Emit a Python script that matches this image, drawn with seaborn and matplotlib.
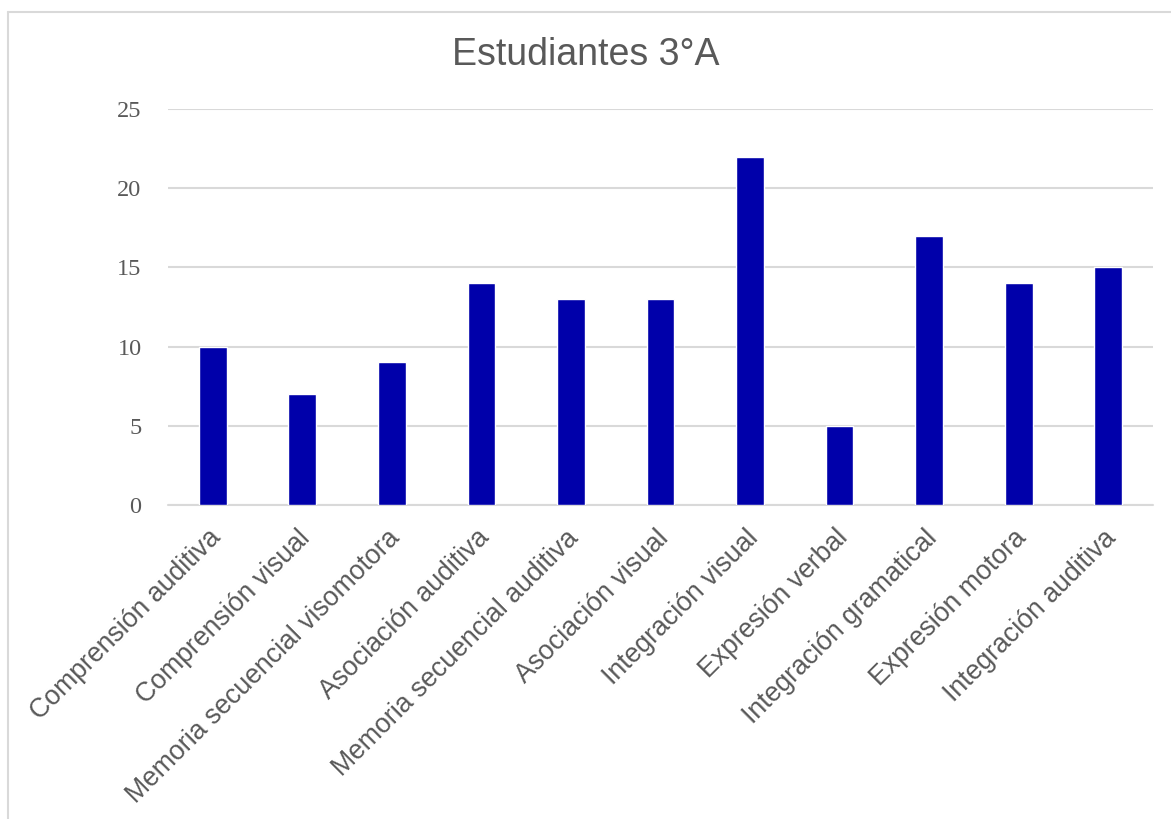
import matplotlib
matplotlib.use('Agg')
import matplotlib.pyplot as plt
import matplotlib.transforms as mtransforms
from matplotlib.lines import Line2D
import pandas as pd
import seaborn as sns

areas = ['Comprensión auditiva', 'Comprensión visual', 'Memoria secuencial visomotora',
         'Asociación auditiva', 'Memoria secuencial auditiva', 'Asociación visual',
         'Integración visual', 'Expresión verbal', 'Integración gramatical',
         'Expresión motora', 'Integración auditiva']
alumnos = [10, 7, 9, 14, 13, 13, 22, 5, 17, 14, 15]
yticks = [0, 5, 10, 15, 20, 25]

df = pd.DataFrame({'Area': areas, 'Alumnos': alumnos})

sns.set_style('white')
plt.rcParams['font.family'] = ['Liberation Sans', 'DejaVu Sans']

fig = plt.figure(figsize=(11.71, 8.19), dpi=100)
ax = fig.add_axes([168/1171, 1-505/819, (1153-168)/1171, (505-109)/819])

sns.barplot(data=df, x='Area', y='Alumnos', color='#0000AA', width=0.31,
            saturation=1, ax=ax, zorder=3)

ax.set_ylim(0, 25)
ax.set_xlim(-0.5, len(areas)-0.5)
ax.set_yticks(yticks)
ax.yaxis.grid(True, color='#d9d9d9', linewidth=1.5, zorder=0)
ax.set_axisbelow(True)
for s in ax.spines.values():
    s.set_visible(False)
ax.axhline(0, color='#d9d9d9', linewidth=1.5, zorder=1, clip_on=False)
ax.set_xlabel('')
ax.set_ylabel('')
ax.tick_params(axis='both', length=0)
ax.tick_params(axis='y', pad=19)
for lab in ax.get_yticklabels():
    lab.set_family('Liberation Serif')
    lab.set_fontsize(17.5)
    lab.set_color('#595959')

ax.set_xticks(range(len(areas)))
ax.set_xticklabels(areas, rotation=45, ha='right', va='center',
                   rotation_mode='anchor', fontsize=19.2, color='#595959')
ax.tick_params(axis='x', pad=0)
offset = mtransforms.ScaledTranslation(0.04, -0.29, fig.dpi_scale_trans)
for lab in ax.get_xticklabels():
    lab.set_transform(lab.get_transform() + offset)

fig.text(0.5, 1-55/819, 'Estudiantes 3°A', ha='center', va='center',
         fontsize=27, color='#595959')

# light chart frame (top and left edges)
fig.add_artist(Line2D([8/1171, 1], [1-12/819, 1-12/819], color='#d9d9d9',
                      linewidth=1.5, transform=fig.transFigure))
fig.add_artist(Line2D([8/1171, 8/1171], [0, 1-12/819], color='#d9d9d9',
                      linewidth=1.5, transform=fig.transFigure))

fig.savefig('out.png', dpi=100)
